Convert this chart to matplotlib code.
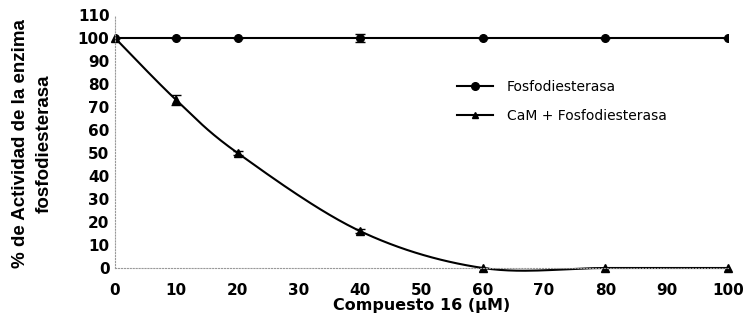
import numpy as np
import matplotlib
matplotlib.use("Agg")
import matplotlib.pyplot as plt

conc = [0, 10, 20, 40, 60, 80, 100]
pde = [100, 100, 100, 100, 100, 100, 100]
pde_err = [0, 0, 0, 1.8, 0, 0, 0]
cam_pde = [100, 73, 50, 16, 0, 0, 0]
cam_err = [0, 2.2, 0.8, 0.8, 0, 0, 0]

y_ticks = list(range(0, 111, 10))
x_ticks = list(range(0, 101, 10))


def smooth(x, y, n=30):
    # curva suavizada estilo Excel (Bezier con puntos de control 1/6)
    p = np.column_stack([x, y]).astype(float)
    p = np.vstack([p[0], p, p[-1]])
    t = np.linspace(0, 1, n)[:, None]
    out = []
    for i in range(1, len(p) - 2):
        p0, p1, p2, p3 = p[i - 1], p[i], p[i + 1], p[i + 2]
        c1 = p1 + (p2 - p0) / 6
        c2 = p2 - (p3 - p1) / 6
        b = (1 - t) ** 3 * p1 + 3 * (1 - t) ** 2 * t * c1 + 3 * (1 - t) * t ** 2 * c2 + t ** 3 * p2
        out.append(b)
    out = np.vstack(out)
    return out[:, 0], out[:, 1]


fig = plt.figure(figsize=(7.47, 3.2), dpi=100)
ax = fig.add_axes([115 / 747, 1 - 268 / 320, 613 / 747, 253 / 320])

sx, sy = smooth(conc, cam_pde)
l1, = ax.plot(conc, pde, color="black", lw=1.5, marker="o", ms=5.5, label="Fosfodiesterasa")
ax.errorbar(conc, pde, yerr=pde_err, fmt="none", ecolor="black", capsize=3.5, lw=1.2)
ax.plot(sx, sy, color="black", lw=1.5, clip_on=False)
ax.plot(conc, cam_pde, ls="none", marker="^", ms=5.5, mfc="black", mec="black", clip_on=False)
ax.errorbar(conc, cam_pde, yerr=cam_err, fmt="none", ecolor="black", capsize=3.5, lw=1.2)
l2, = ax.plot([], [], color="black", lw=1.5, marker="^", ms=5, label="CaM + Fosfodiesterasa")

ax.legend(handles=[l1, l2], loc="upper left", bbox_to_anchor=(457 / 747, 1 - 80 / 320),
          bbox_transform=fig.transFigure, frameon=False, fontsize=10,
          handlelength=2.6, handletextpad=1.0, labelspacing=1.1,
          borderpad=0, borderaxespad=0)

ax.set_xlim(0, 100)
ax.set_ylim(0, 110)
ax.set_xticks(x_ticks)
ax.set_yticks(y_ticks)
ax.tick_params(axis="x", length=0, labelsize=11, pad=11)
ax.tick_params(axis="y", length=0, labelsize=11, pad=4)
for lab in ax.get_xticklabels() + ax.get_yticklabels():
    lab.set_fontweight("bold")
for s in ["top", "right"]:
    ax.spines[s].set_visible(False)
for s in ["left", "bottom"]:
    ax.spines[s].set_linestyle(":")
    ax.spines[s].set_color("#999999")
    ax.spines[s].set_linewidth(0.8)

ax.set_xlabel("Compuesto 16 (µM)", fontsize=11.5, fontweight="bold", labelpad=0)
fig.text(32 / 747, 1 - 144 / 320, "% de Actividad de la enzima\nfosfodiesterasa",
         rotation=90, ha="center", va="center", fontsize=13.5, fontweight="bold",
         family=["Liberation Sans", "DejaVu Sans"], linespacing=1.5)

fig.savefig("out.png", dpi=100)
